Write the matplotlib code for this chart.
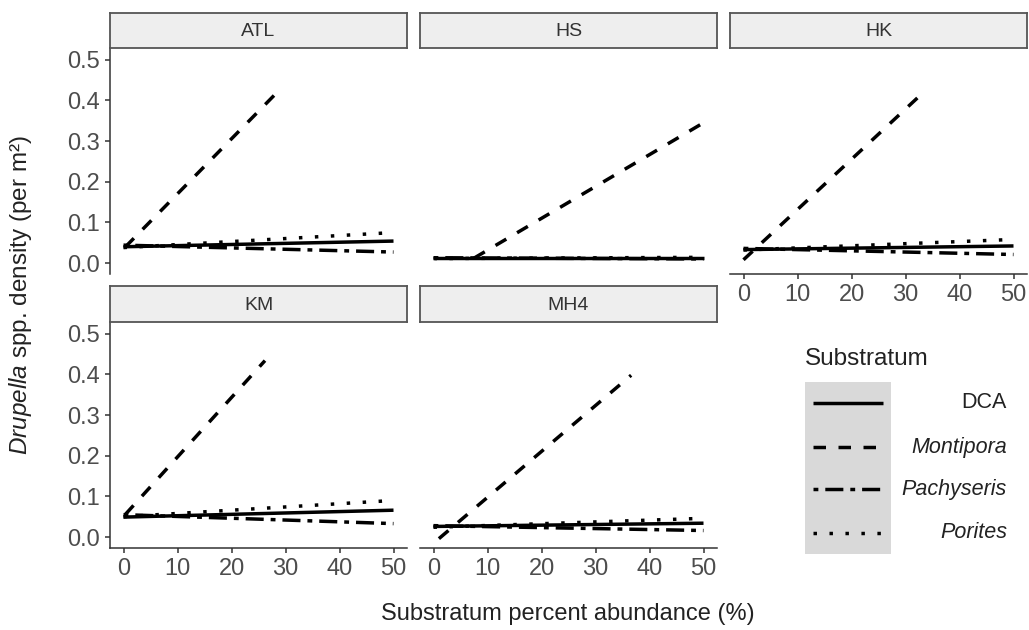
import matplotlib
matplotlib.use("Agg")
import matplotlib.pyplot as plt
from matplotlib.lines import Line2D
from matplotlib.patches import Rectangle

plt.rcParams['font.family'] = ['Liberation Sans', 'DejaVu Sans']
plt.rcParams['mathtext.fontset'] = 'custom'
plt.rcParams['mathtext.rm'] = 'Liberation Sans'
plt.rcParams['mathtext.it'] = 'Liberation Sans:italic'

# ---------------- data ----------------
sites = ['ATL', 'HS', 'HK', 'KM', 'MH4']
substrata = ['DCA', 'Montipora', 'Pachyseris', 'Porites']
legend_italic = [False, True, True, True]

# fitted-line endpoints per site (order of sites list)
dca_x0 = [0, 0, 0, 0, 0]
dca_x1 = [50, 50, 50, 50, 50]
dca_y0 = [0.040, 0.012, 0.033, 0.049, 0.026]
dca_y1 = [0.054, 0.012, 0.042, 0.066, 0.034]

mon_x0 = [0.3, 7.5, 0, 0.3, 1.0]
mon_x1 = [28.6, 50, 33.0, 26.2, 36.6]
mon_y0 = [0.039, 0.012, 0.008, 0.055, -0.004]
mon_y1 = [0.422, 0.345, 0.416, 0.434, 0.398]

pac_x0 = [0, 0, 0, 0, 0]
pac_x1 = [50, 50, 50, 50, 50]
pac_y0 = [0.044, 0.013, 0.036, 0.055, 0.028]
pac_y1 = [0.027, 0.010, 0.021, 0.033, 0.016]

por_x0 = [0, 0, 0, 0, 0]
por_x1 = [50, 50, 50, 50, 50]
por_y0 = [0.038, 0.011, 0.032, 0.050, 0.024]
por_y1 = [0.075, 0.014, 0.058, 0.090, 0.046]

x_ticks = [0, 10, 20, 30, 40, 50]
y_ticks = [0.0, 0.1, 0.2, 0.3, 0.4, 0.5]

series = {
    'DCA': (dca_x0, dca_x1, dca_y0, dca_y1),
    'Montipora': (mon_x0, mon_x1, mon_y0, mon_y1),
    'Pachyseris': (pac_x0, pac_x1, pac_y0, pac_y1),
    'Porites': (por_x0, por_x1, por_y0, por_y1),
}
styles = {
    'DCA': '-',
    'Montipora': (0, (3.6, 3.6)),
    'Pachyseris': (0, (1.4, 2.0, 5.2, 2.0)),
    'Porites': (0, (1, 3.6)),
}

# ---------------- figure ----------------
W, H = 1029, 630
fig = plt.figure(figsize=(W / 100, H / 100), dpi=100)

def fx(px):
    return px / W

def fy(py):
    return 1 - py / H

col_left = [110, 420, 730]
panel_w = 297
rows = [(48, 274, 13), (322, 548, 286)]  # top, bottom, strip top (pixels)
positions = {
    'ATL': (0, 0), 'HS': (0, 1), 'HK': (0, 2), 'KM': (1, 0), 'MH4': (1, 1)
}
show_left = {'ATL': True, 'HS': False, 'HK': False, 'KM': True, 'MH4': False}
show_bottom = {'ATL': False, 'HS': False, 'HK': True, 'KM': True, 'MH4': True}

axis_col = '#333333'
tick_col = '#4d4d4d'
LW = 2.5

for i, site in enumerate(sites):
    r, c = positions[site]
    top, bot, stop = rows[r]
    left = col_left[c]
    ax = fig.add_axes([fx(left), fy(bot), fx(panel_w), (bot - top) / H])
    for sub in substrata:
        x0, x1, y0, y1 = series[sub]
        ax.plot([x0[i], x1[i]], [y0[i], y1[i]], color='black', lw=LW,
                linestyle=styles[sub], solid_capstyle='butt', dash_capstyle='butt')
    ax.set_xlim(-2.5, 52.5)
    ax.set_ylim(-0.027, 0.529)
    for s in ['top', 'right']:
        ax.spines[s].set_visible(False)
    ax.spines['left'].set_visible(show_left[site])
    ax.spines['bottom'].set_visible(show_bottom[site])
    for s in ['left', 'bottom']:
        ax.spines[s].set_color(axis_col)
        ax.spines[s].set_linewidth(1.1)
    ax.set_xticks(x_ticks)
    ax.set_yticks(y_ticks)
    ax.set_yticklabels([f'{v:.1f}' for v in y_ticks])
    ax.tick_params(axis='both', colors=axis_col, labelcolor=tick_col, length=3.5,
                   width=1.1, labelsize=17, pad=4)
    ax.tick_params(axis='y', left=show_left[site], labelleft=show_left[site])
    ax.tick_params(axis='x', bottom=show_bottom[site], labelbottom=show_bottom[site])
    ax.patch.set_alpha(0)

    # strip
    sax = fig.add_axes([fx(left), fy(top), fx(panel_w), (top - stop) / H])
    sax.set_xticks([])
    sax.set_yticks([])
    sax.set_facecolor('#eeeeee')
    for s in sax.spines.values():
        s.set_color('#555555')
        s.set_linewidth(1.3)
    sax.text(0.5, 0.47, site, ha='center', va='center', fontsize=14,
             color='#333333', transform=sax.transAxes)

# axis titles
fig.text(fx(568), fy(614), 'Substratum percent abundance (%)', ha='center', va='center',
         fontsize=17, color='#222222')
fig.text(fx(21), fy(295), r'$\it{Drupella}$ spp. density (per m²)', ha='center',
         va='center', rotation=90, fontsize=17.5, color='#222222')

# legend
fig.text(fx(805), fy(359), 'Substratum', ha='left', va='center', fontsize=17.5,
         color='#222222')
fig.patches.append(Rectangle((fx(805), fy(554)), fx(86), (554 - 382) / H,
                             transform=fig.transFigure, facecolor='#d9d9d9',
                             edgecolor='none'))
row_y = [403, 447, 489, 533]
for sub, yy, it in zip(substrata, row_y, legend_italic):
    fig.add_artist(Line2D([fx(813), fx(883)], [fy(yy), fy(yy)], color='black', lw=LW,
                          linestyle=styles[sub], solid_capstyle='butt',
                          dash_capstyle='butt', transform=fig.transFigure))
    fig.text(fx(1007), fy(yy), sub, ha='right', va='center', fontsize=15.5,
             style='italic' if it else 'normal', color='#222222')

fig.savefig('out.png', dpi=100)
